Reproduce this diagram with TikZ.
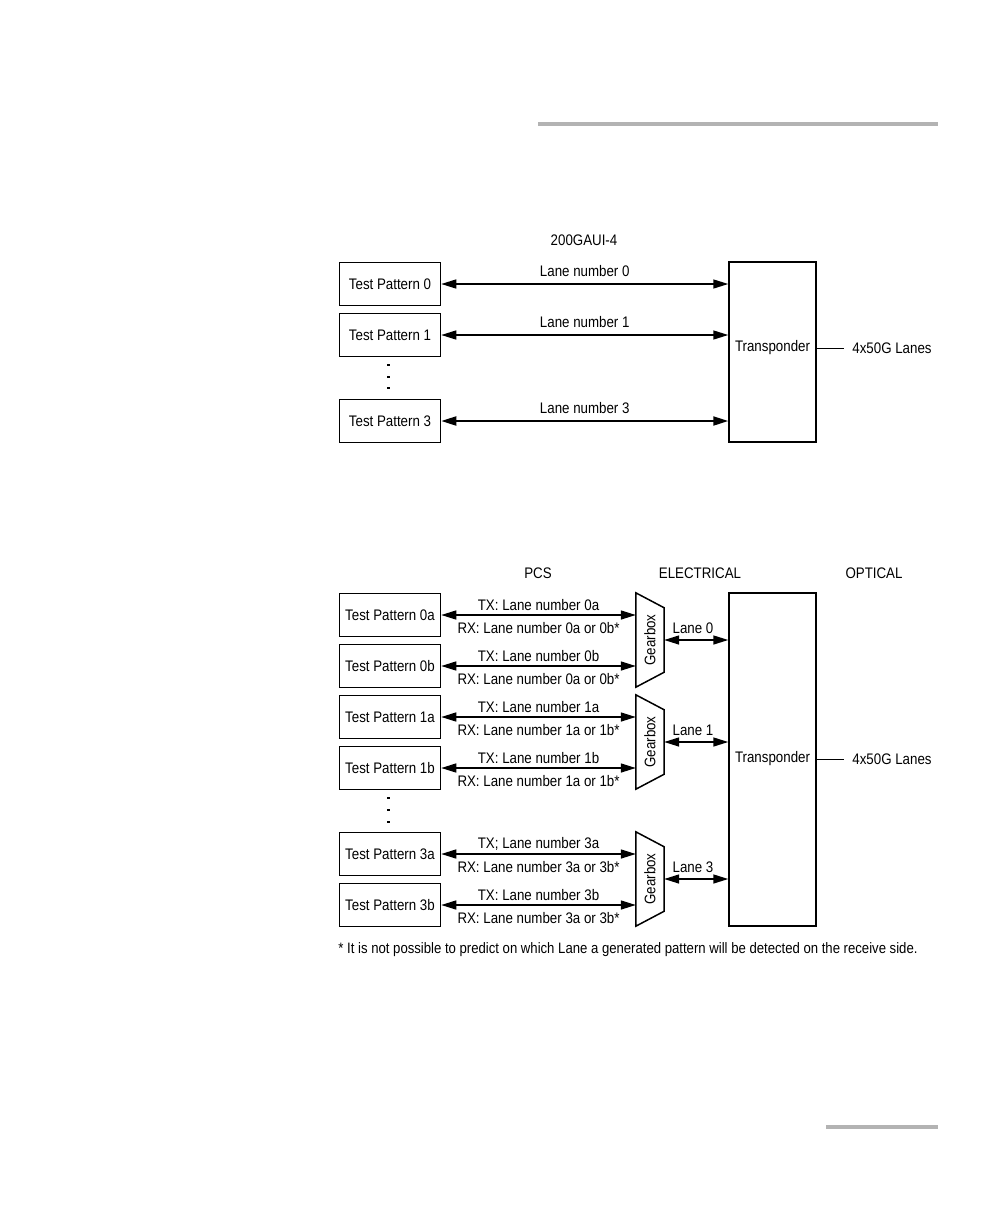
\documentclass[tikz,border=0pt]{standalone}
\usepackage{fontspec}
\setmainfont[FakeStretch=0.87]{Liberation Sans}
\usetikzlibrary{arrows.meta}
\definecolor{rulegray}{HTML}{B3B3B3}
\newcommand{\dfont}{\fontsize{15.3pt}{17pt}\selectfont}
\tikzset{
  txt/.style={font=\dfont, inner sep=0pt},
  tpbox/.style={draw, line width=1.5pt, minimum width=101pt, minimum height=43pt, inner sep=0pt, font=\dfont},
  trbox/.style={draw, line width=1.5pt, minimum width=87pt, inner sep=0pt},
  gbox/.style={minimum width=28pt, minimum height=94pt, inner sep=0pt},
  gshape/.style={draw, line width=1.5pt, line join=miter},
  biarrow/.style={line width=1.5pt, {Triangle[length=15pt,width=9pt]}-{Triangle[length=15pt,width=9pt]}},
  dotdash/.style={line width=1.8pt},
  wire/.style={line width=1pt},
  grayrule/.style={rulegray, line width=4pt}
}
\begin{document}
\begin{tikzpicture}[x=1pt,y=-1pt]
\useasboundingbox (0,0) rectangle (1008,1224);
% gray rules
\draw[grayrule] (538,124) -- (938,124);
\draw[grayrule] (826,1127) -- (938,1127);

% ===== Diagram 1 =====
\node[txt] (title1) at (584,240) {200GAUI-4};
\node[tpbox] (tp0) at (390,284) {Test Pattern 0};
\node[tpbox] (tp1) at (390,335) {Test Pattern 1};
\node[tpbox] (tp3) at (390,421) {Test Pattern 3};
\draw[dotdash] (387,365) -- (390,365) (387,377) -- (390,377) (387,388) -- (390,388);
\node[trbox, minimum height=180pt] (tr1) at (772.5,352) {};
\node[txt] (tr1t) at (772.5,348) {Transponder};
\node[txt] (lanes1) at (892,348) {4x50G Lanes};
\draw[wire] (tr1.east |- lanes1.west) -- ([xshift=-8pt]lanes1.west);
\draw[biarrow] (tp0.east) -- node[txt, yshift=13pt] {Lane number 0} (tp0.east -| tr1.west);
\draw[biarrow] (tp1.east) -- node[txt, yshift=13pt] {Lane number 1} (tp1.east -| tr1.west);
\draw[biarrow, line width=2pt] (tp3.east) -- node[txt, yshift=13pt] {Lane number 3} (tp3.east -| tr1.west);

% ===== Diagram 2 =====
\node[txt] (hpcs) at (538,573) {PCS};
\node[txt] (hel) at (700,573) {ELECTRICAL};
\node[txt] (hop) at (874,573) {OPTICAL};

\node[tpbox] (t0a) at (390,615) {Test Pattern 0a};
\node[tpbox] (t0b) at (390,666) {Test Pattern 0b};
\node[tpbox] (t1a) at (390,717) {Test Pattern 1a};
\node[tpbox] (t1b) at (390,768) {Test Pattern 1b};
\draw[dotdash] (387,798) -- (390,798) (387,810) -- (390,810) (387,822) -- (390,822);
\node[tpbox] (t3a) at (390,854) {Test Pattern 3a};
\node[tpbox] (t3b) at (390,905) {Test Pattern 3b};

\node[trbox, minimum height=333pt] (tr2) at (772.5,759.5) {};
\node[txt] (tr2t) at (772.5,759) {Transponder};
\node[txt] (lanes2) at (892,759) {4x50G Lanes};
\draw[wire] (tr2.east |- lanes2.west) -- ([xshift=-8pt]lanes2.west);

% gearboxes
\foreach \n/\y in {0/640,1/742,3/879}{
  \node[gbox] (gb\n) at (650,\y) {};
  \draw[gshape] (gb\n.north west) -- ([yshift=-15pt]gb\n.north east) -- ([yshift=15pt]gb\n.south east) -- (gb\n.south west) -- cycle;
  \node[txt, rotate=90] (gbt\n) at (650,\y) {Gearbox};
}

% PCS arrows
\draw[biarrow] (t0a.east) -- node[txt, yshift=10pt] {TX: Lane number 0a} node[txt, yshift=-13pt] {RX: Lane number 0a or 0b*} (t0a.east -| gb0.west);
\draw[biarrow] (t0b.east) -- node[txt, yshift=10pt] {TX: Lane number 0b} node[txt, yshift=-13pt] {RX: Lane number 0a or 0b*} (t0b.east -| gb0.west);
\draw[biarrow] (t1a.east) -- node[txt, yshift=10pt] {TX: Lane number 1a} node[txt, yshift=-13pt] {RX: Lane number 1a or 1b*} (t1a.east -| gb1.west);
\draw[biarrow] (t1b.east) -- node[txt, yshift=10pt] {TX: Lane number 1b} node[txt, yshift=-13pt] {RX: Lane number 1a or 1b*} (t1b.east -| gb1.west);
\draw[biarrow] (t3a.east) -- node[txt, yshift=10pt] {TX; Lane number 3a} node[txt, yshift=-13pt] {RX: Lane number 3a or 3b*} (t3a.east -| gb3.west);
\draw[biarrow] (t3b.east) -- node[txt, yshift=10pt] {TX: Lane number 3b} node[txt, yshift=-13pt] {RX: Lane number 3a or 3b*} (t3b.east -| gb3.west);

% electrical lanes
\draw[biarrow] (gb0.east) -- node[txt, pos=0.45, yshift=12pt] {Lane 0} (gb0.east -| tr2.west);
\draw[biarrow] (gb1.east) -- node[txt, pos=0.45, yshift=12pt] {Lane 1} (gb1.east -| tr2.west);
\draw[biarrow] (gb3.east) -- node[txt, pos=0.45, yshift=12pt] {Lane 3} (gb3.east -| tr2.west);

% footnote
\node[txt, font=\fontsize{15.1pt}{17pt}\selectfont] (note) at (628,950) {* It is not possible to predict on which Lane a generated pattern will be detected on the receive side.};
\end{tikzpicture}
\end{document}
